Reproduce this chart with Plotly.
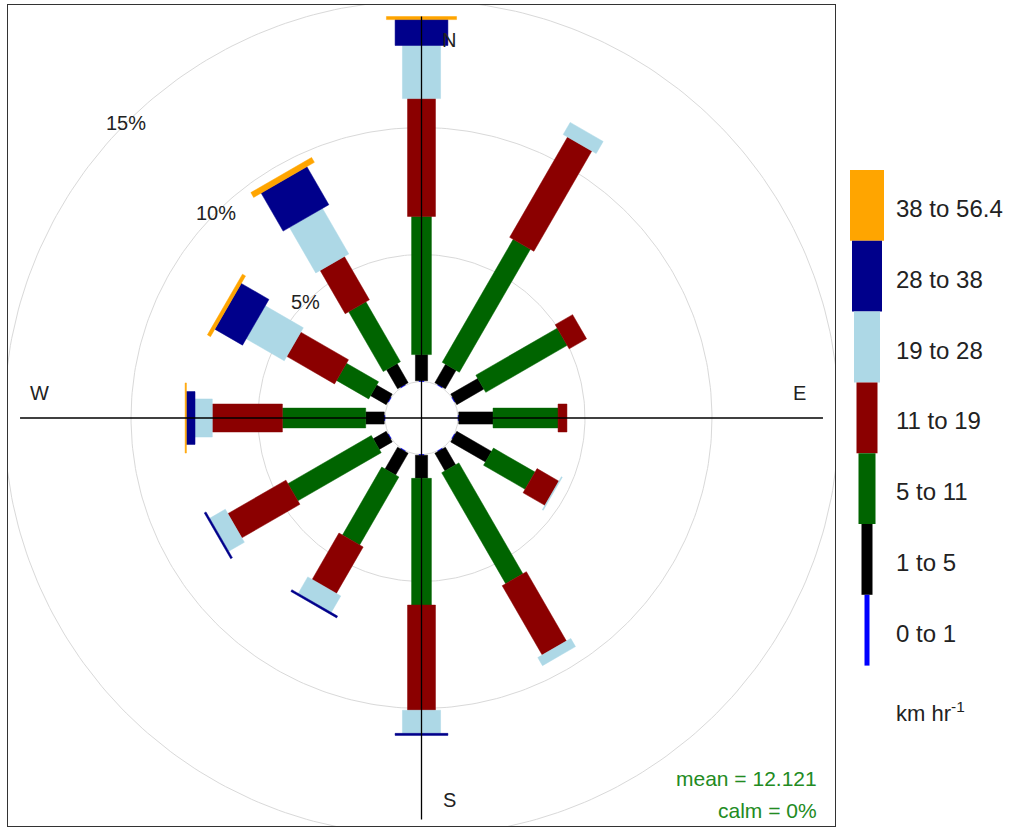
import numpy as np
import plotly.graph_objects as go

# Wind directions (degrees clockwise from north) and speed bins (km/h)
directions = [0, 30, 60, 90, 120, 150, 180, 210, 240, 270, 300, 330]
speed_breaks = [0, 1, 5, 11, 19, 28, 38, 56.4]
bin_colors = ["#0000FF", "#000000", "#006400", "#8B0000", "#ADD8E6", "#00008B", "#FFA500"]

# Frequency (%) of each speed bin, one value per direction
freq_0_1 = [0.03, 0.03, 0.03, 0.03, 0.03, 0.03, 0.03, 0.03, 0.03, 0.03, 0.03, 0.03]
freq_1_5 = [1.03, 0.84, 1.23, 1.35, 1.58, 0.80, 0.91, 0.99, 0.59, 0.73, 0.71, 0.87]
freq_5_11 = [5.44, 5.59, 3.70, 2.56, 1.89, 5.04, 4.99, 3.09, 3.79, 3.28, 1.46, 2.72]
freq_11_19 = [4.64, 4.56, 0.79, 0.35, 0.99, 3.15, 4.14, 2.11, 2.64, 2.76, 2.17, 1.97]
freq_19_28 = [2.09, 0.55, 0.00, 0.00, 0.04, 0.37, 0.91, 0.75, 0.71, 0.68, 1.73, 2.07]
freq_28_38 = [1.02, 0.00, 0.00, 0.00, 0.00, 0.00, 0.08, 0.08, 0.08, 0.34, 1.26, 1.73]
freq_38_56 = [0.12, 0.00, 0.00, 0.00, 0.00, 0.00, 0.00, 0.00, 0.00, 0.05, 0.14, 0.22]

mean_speed = 12.121
calm_pct = 0
grid_pcts = [5, 10, 15]

bins = [freq_0_1, freq_1_5, freq_5_11, freq_11_19, freq_19_28, freq_28_38, freq_38_56]
bin_labels = [f"{speed_breaks[i]:g} to {speed_breaks[i + 1]:g}" for i in range(len(bins))]

# paddle half-widths (in % units) for each speed bin
half_widths = [0.10, 0.24, 0.39, 0.55, 0.75, 1.04, 1.38]

totals = np.sum(np.array(bins), axis=0)
max_freq = float(totals.max())
off_set = 0.1 * max_freq
R = max_freq + off_set

FONT = "Arial, Liberation Sans, sans-serif"
fig = go.Figure()

# grid circles
ang = np.linspace(0, 2 * np.pi, 361)
for r in [off_set] + [off_set + g for g in grid_pcts]:
    fig.add_trace(go.Scatter(x=r * np.sin(ang), y=r * np.cos(ang), mode="lines",
                             line=dict(color="#d9d9d9", width=1), hoverinfo="skip",
                             showlegend=False))

# paddles: one filled trace per speed bin
cum = np.full(len(directions), off_set)
for b, vals in enumerate(bins):
    xs, ys = [], []
    h = half_widths[b]
    for i, wd in enumerate(directions):
        v = vals[i]
        d1, d2 = cum[i], cum[i] + v
        if v > 0:
            t = np.radians(wd)
            ux, uy = np.sin(t), np.cos(t)
            px, py = np.cos(t), -np.sin(t)
            xs += [d1 * ux - h * px, d1 * ux + h * px, d2 * ux + h * px, d2 * ux - h * px,
                   d1 * ux - h * px, None]
            ys += [d1 * uy - h * py, d1 * uy + h * py, d2 * uy + h * py, d2 * uy - h * py,
                   d1 * uy - h * py, None]
        cum[i] = d2
    fig.add_trace(go.Scatter(x=xs, y=ys, mode="lines", fill="toself",
                             fillcolor=bin_colors[b],
                             line=dict(color=bin_colors[b], width=0.5),
                             hoverinfo="skip", showlegend=False))

# compass cross lines
fig.add_trace(go.Scatter(x=[-R, R, None, 0, 0], y=[0, 0, None, -R, R], mode="lines",
                         line=dict(color="black", width=1.3), hoverinfo="skip",
                         showlegend=False))

annotations = []
# percentage labels along the north-west diagonal
for g in grid_pcts:
    r = off_set + g
    annotations.append(dict(x=r * np.sin(np.radians(315)), y=r * np.cos(np.radians(315)),
                            xref="x", yref="y", text=f"{g}%", showarrow=False,
                            font=dict(family=FONT, size=20, color="#222")))

# compass letters
for txt, x, y in [("N", 1.1, 14.9), ("E", 14.9, 1.0), ("S", 1.1, -15.05), ("W", -15.05, 1.0)]:
    annotations.append(dict(x=x, y=y, xref="x", yref="y", text=txt, showarrow=False,
                            font=dict(family=FONT, size=20, color="#222")))

# plot area in pixels
W, H = 1019, 829
L, Rm, T, B = 8, 184, 5, 3
pw, ph = W - L - Rm, H - T - B


def px2paper(x, y):
    return (x - L) / pw, (H - B - y) / ph


# summary text
for txt, ypix in [(f"mean = {mean_speed:g}", 778), (f"calm = {calm_pct:g}%", 810)]:
    x, y = px2paper(819, ypix)
    annotations.append(dict(x=x, y=y, xref="paper", yref="paper", text=txt, showarrow=False,
                            xanchor="right", yanchor="middle",
                            font=dict(family=FONT, size=21, color="#228B22")))

# colour key
shapes = []
key_widths = [5, 11, 17, 21, 26, 30, 34]
key_cx, key_top, key_h = 867, 170, 70.8
n = len(bins)
for k in range(n):
    b = n - 1 - k
    y0p = key_top + k * key_h
    y1p = y0p + key_h
    x0, y0 = px2paper(key_cx - key_widths[b] / 2, y1p)
    x1, y1 = px2paper(key_cx + key_widths[b] / 2, y0p)
    shapes.append(dict(type="rect", xref="paper", yref="paper", x0=x0, x1=x1, y0=y0, y1=y1,
                       fillcolor=bin_colors[b], line=dict(width=0), layer="above"))
    lx, ly = px2paper(894, (y0p + y1p) / 2 + 3)
    annotations.append(dict(x=lx, y=ly, xref="paper", yref="paper", text=bin_labels[b],
                            showarrow=False, xanchor="left", yanchor="middle",
                            font=dict(family=FONT, size=24, color="#222")))
ux_, uy_ = px2paper(894, 712)
annotations.append(dict(x=ux_, y=uy_, xref="paper", yref="paper", text="km hr<sup>-1</sup>",
                        showarrow=False, xanchor="left", yanchor="middle",
                        font=dict(family=FONT, size=22, color="#222")))

xr = 1.03 * R
yr = ph / pw * xr
ycen = -(ph / 2 - (418 - T)) / (pw / (2 * xr))
fig.update_layout(
    width=W, height=H,
    margin=dict(l=L, r=Rm, t=T, b=B, pad=0),
    paper_bgcolor="white", plot_bgcolor="white",
    xaxis=dict(range=[-xr, xr], showgrid=False, zeroline=False, showticklabels=False,
               ticks="", showline=True, mirror=True, linecolor="#333", linewidth=1),
    yaxis=dict(range=[ycen - yr, ycen + yr], showgrid=False, zeroline=False,
               showticklabels=False, ticks="", showline=True, mirror=True,
               linecolor="#333", linewidth=1),
    annotations=annotations, shapes=shapes, showlegend=False,
)

fig.write_html("out.html")
